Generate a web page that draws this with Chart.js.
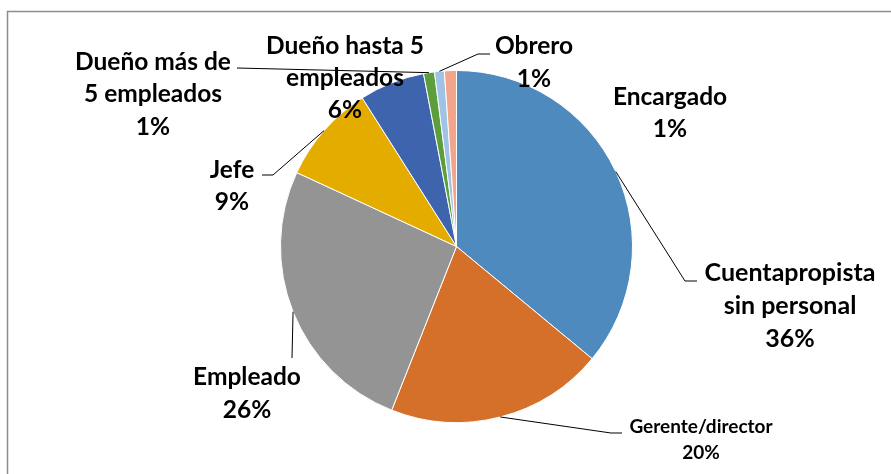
<!DOCTYPE html>
<html>
<head>
<meta charset="utf-8">
<script src="https://cdn.jsdelivr.net/npm/chart.js@4.4.1/dist/chart.umd.min.js"></script>
<style>
  html, body { margin: 0; padding: 0; background: #fff; }
  #wrap { position: relative; width: 891px; height: 474px; }
</style>
</head>
<body>
<div id="wrap"><canvas id="pieChart"></canvas></div>
<script>
// data (clockwise from 12 o'clock)
var categories = [
  'Cuentapropista sin personal',
  'Gerente/director',
  'Empleado',
  'Jefe',
  'Dueño hasta 5 empleados',
  'Dueño más de 5 empleados',
  'Obrero',
  'Encargado'
];
var values = [36.0, 20.0, 25.9, 9.1, 6.0, 1.0, 0.9, 1.1];
var colors = ['#4e8abe', '#d5702b', '#949494', '#e5ac00', '#3d64ad', '#5c9e3c', '#9fc2e5', '#f3a58b'];

// label layout: text lines, centre of first line, font size, line height, leader elbow/end
var labelLayout = [
  { lines: ['Cuentapropista', 'sin personal'], x: 790, y: 273, size: 25, lh: 33, leader: [[685, 281], [697, 281]] },
  { lines: ['Gerente/director'], x: 701, y: 427, size: 19, lh: 26, leader: [[611, 433], [622, 433]] },
  { lines: ['Empleado'], x: 247, y: 377, size: 24.5, lh: 33, leader: [[292, 358]] },
  { lines: ['Jefe'], x: 232, y: 170, size: 24.5, lh: 32, leader: [[273, 175], [262, 175]] },
  { lines: ['Dueño hasta 5', 'empleados'], x: 345, y: 46, size: 24.5, lh: 32, leader: null },
  { lines: ['Dueño más de', '5 empleados'], x: 153, y: 62, size: 24.5, lh: 32.5, leader: [[237, 68]] },
  { lines: ['Obrero'], x: 534, y: 46, size: 24.5, lh: 33, leader: [[478, 54], [490, 54]] },
  { lines: ['Encargado'], x: 670, y: 97, size: 24.5, lh: 32, leader: null }
];

var total = values.reduce(function(a, b) { return a + b; }, 0);

// frame: only left and top edges show in the reference
var framePlugin = {
  id: 'frame',
  beforeDraw: function(chart) {
    var ctx = chart.ctx;
    ctx.save();
    ctx.strokeStyle = '#8c8c8c';
    ctx.lineWidth = 1.5;
    ctx.beginPath();
    ctx.moveTo(7.5, 474);
    ctx.lineTo(7.5, 11.5);
    ctx.lineTo(891, 11.5);
    ctx.stroke();
    ctx.restore();
  }
};

// excel style data labels with leader lines
var labelPlugin = {
  id: 'pieLabels',
  afterDraw: function(chart) {
    var ctx = chart.ctx;
    var arcs = chart.getDatasetMeta(0).data;
    ctx.save();
    arcs.forEach(function(arc, i) {
      var p = arc.getProps(['x', 'y', 'startAngle', 'endAngle', 'outerRadius'], true);
      var mid = (p.startAngle + p.endAngle) / 2;
      var ax = p.x + Math.cos(mid) * p.outerRadius;
      var ay = p.y + Math.sin(mid) * p.outerRadius;
      var lay = labelLayout[i];

      if (lay.leader) {
        ctx.strokeStyle = '#000';
        ctx.lineWidth = 1;
        ctx.beginPath();
        ctx.moveTo(ax, ay);
        lay.leader.forEach(function(pt) { ctx.lineTo(pt[0], pt[1]); });
        ctx.stroke();
      }

      var lines = lay.lines.concat([Math.round(values[i] / total * 100) + '%']);
      ctx.fillStyle = '#000';
      ctx.textAlign = 'center';
      ctx.textBaseline = 'middle';
      ctx.font = 'bold ' + lay.size + 'px Lato';
      lines.forEach(function(t, k) {
        ctx.fillText(t, lay.x, lay.y + k * lay.lh);
      });
    });
    ctx.restore();
  }
};

//-------------
//- PIE CHART -
//-------------
var ctx = document.getElementById('pieChart');
new Chart(ctx, {
  type: 'pie',
  data: {
    labels: categories,
    datasets: [{
      data: values,
      backgroundColor: colors,
      borderColor: '#ffffff',
      borderWidth: 1
    }]
  },
  options: {
    responsive: true,
    maintainAspectRatio: false,
    animation: false,
    layout: { padding: { top: 70, bottom: 51, left: 100, right: 78 } },
    plugins: {
      legend: { display: false },
      tooltip: { enabled: false }
    }
  },
  plugins: [framePlugin, labelPlugin]
});
</script>
</body>
</html>
